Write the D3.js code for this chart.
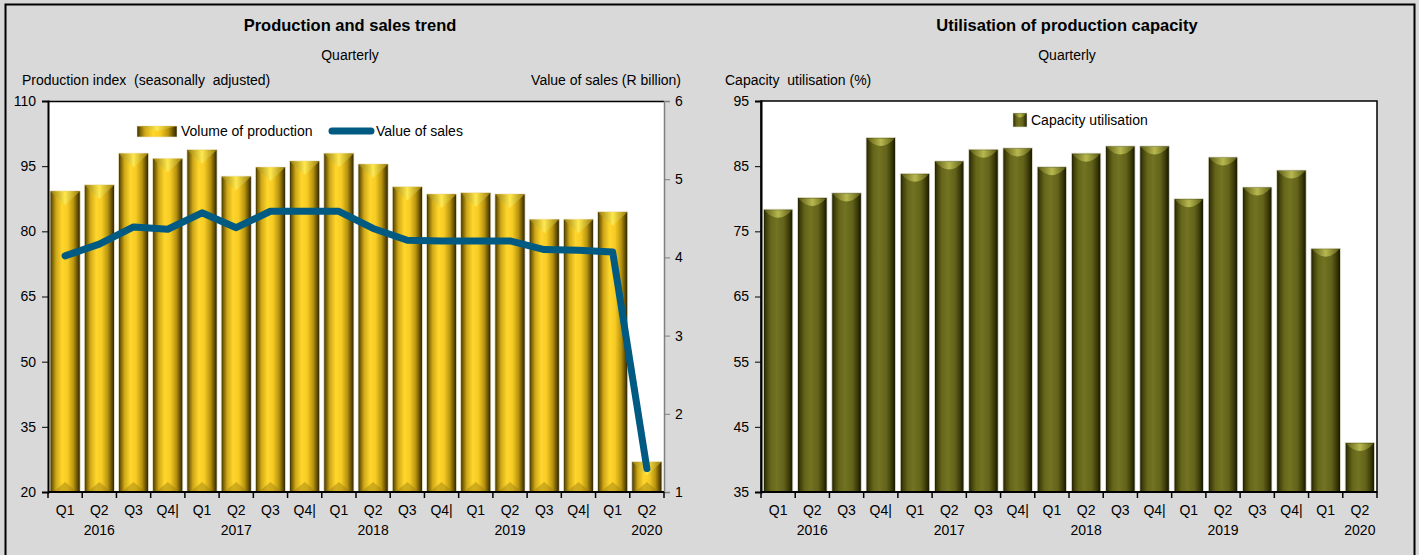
<!DOCTYPE html>
<html>
<head>
<meta charset="utf-8">
<script src="https://cdn.jsdelivr.net/npm/d3@7"></script>
<style>
  html, body { margin: 0; padding: 0; background: #d9d9d9; }
  svg { display: block; }
  text { font-family: "Liberation Sans", Arial, sans-serif; fill: #000; }
</style>
</head>
<body>
<svg id="chart" width="1419" height="555"></svg>
<script>
// ---------- data ----------
const quarters = ["Q1","Q2","Q3","Q4|","Q1","Q2","Q3","Q4|","Q1","Q2","Q3","Q4|","Q1","Q2","Q3","Q4|","Q1","Q2"];
const years = ["2016","2016","2016","2016","2017","2017","2017","2017","2018","2018","2018","2018","2019","2019","2019","2019","2020","2020"];
const yearLabels = ["2016","2017","2018","2019","2020"];
const productionVolume = [89.3, 90.7, 98.0, 96.8, 98.8, 92.7, 94.8, 96.2, 98.0, 95.5, 90.3, 88.6, 88.9, 88.6, 82.8, 82.8, 84.5, 27.0];
const salesValue = [4.02, 4.17, 4.39, 4.36, 4.57, 4.38, 4.59, 4.59, 4.59, 4.37, 4.22, 4.21, 4.21, 4.21, 4.10, 4.09, 4.07, 1.30];
const capacityUtil = [78.4, 80.2, 80.9, 89.4, 83.9, 85.8, 87.6, 87.8, 84.9, 87.0, 88.1, 88.1, 80.0, 86.4, 81.8, 84.4, 72.4, 42.6];
const leftTicks = [20, 35, 50, 65, 80, 95, 110];
const rightTicks = [1, 2, 3, 4, 5, 6];
const capTicks = [35, 45, 55, 65, 75, 85, 95];

const idx = quarters.map((q, i) => i);
const svg = d3.select("#chart");

// ---------- gradients ----------
const defs = svg.append("defs");
function hGrad(id, stops) {
  const g = defs.append("linearGradient").attr("id", id).attr("x1", "0%").attr("x2", "100%").attr("y1", "0%").attr("y2", "0%");
  stops.forEach(s => g.append("stop").attr("offset", s[0]).attr("stop-color", s[1]));
}
hGrad("gold", [["0%","#2e2500"],["6%","#6e5804"],["20%","#cfa818"],["40%","#ffd62c"],["58%","#f7cb24"],["78%","#b8940f"],["92%","#5e4a03"],["100%","#241c00"]]);
hGrad("goldTop", [["0%","#9a7c08"],["50%","#ffe84e"],["100%","#9a7c08"]]);
hGrad("olive", [["0%","#161600"],["8%","#3c3c0a"],["25%","#66661a"],["45%","#737323"],["70%","#62621a"],["88%","#383808"],["100%","#121200"]]);
hGrad("oliveTop", [["0%","#5c5c14"],["50%","#b8b850"],["100%","#5c5c14"]]);

// background + frame
svg.append("rect").attr("x", 0).attr("y", 0).attr("width", 1419).attr("height", 555).attr("fill", "#d9d9d9");
svg.append("path").attr("d", "M5.5,555 L5.5,4.5 L1414.5,4.5 L1414.5,555").attr("fill", "none").attr("stroke", "#000").attr("stroke-width", 2);

const yTop = 101, yBot = 492;

// ---------- LEFT CHART ----------
const L = { x0: 48, x1: 664 };
const xL = d3.scaleBand().domain(idx).range([L.x0, L.x1]).paddingInner(0.12).paddingOuter(0.06);
const yL = d3.scaleLinear().domain([20, 110]).range([yBot, yTop]);
const yR = d3.scaleLinear().domain([1, 6]).range([yBot, yTop]);

svg.append("rect").attr("x", L.x0).attr("y", yTop).attr("width", L.x1 - L.x0).attr("height", yBot - yTop).attr("fill", "#fff");

svg.append("text").attr("x", 350).attr("y", 31).attr("text-anchor", "middle").attr("font-size", 16.5).attr("font-weight", "bold").text("Production and sales trend");
svg.append("text").attr("x", 350).attr("y", 60).attr("text-anchor", "middle").attr("font-size", 14).text("Quarterly");
svg.append("text").attr("x", 22).attr("y", 85).attr("font-size", 14).attr("xml:space", "preserve").text("Production index  (seasonally  adjusted)");
svg.append("text").attr("x", 681).attr("y", 85).attr("text-anchor", "end").attr("font-size", 14).text("Value of sales (R billion)");

// bars left
const gBL = svg.append("g");
const bw = xL.bandwidth();
idx.forEach(i => {
  const x = xL(i), y = yL(productionVolume[i]), h = yBot - y;
  gBL.append("rect").attr("x", x).attr("y", y).attr("width", bw).attr("height", h)
    .attr("fill", "url(#gold)").attr("stroke", "#eee8c8").attr("stroke-width", 0.8);
  const bv = Math.min(14, h / 2);
  gBL.append("path").attr("d", `M${x + 0.5},${y + 0.5} L${x + bw - 0.5},${y + 0.5} L${x + bw / 2},${y + bv} Z`).attr("fill", "url(#goldTop)");
  gBL.append("path").attr("d", `M${x + 3},${yBot} L${x + bw - 3},${yBot} L${x + bw / 2},${yBot - 10} Z`).attr("fill", "#9c7e10").attr("opacity", 0.45);
});

// line
const lineGen = d3.line().x((d, i) => xL(i) + bw / 2).y(d => yR(d)).curve(d3.curveLinear);
svg.append("path").datum(salesValue).attr("d", lineGen).attr("fill", "none").attr("stroke", "#005a82")
  .attr("stroke-width", 7).attr("stroke-linejoin", "round").attr("stroke-linecap", "round");

// plot border
svg.append("line").attr("x1", L.x0).attr("x2", L.x1).attr("y1", yTop + 0.5).attr("y2", yTop + 0.5).attr("stroke", "#000").attr("stroke-width", 1.5);

// axes left
const axL = d3.axisLeft(yL).tickValues(leftTicks).tickSize(6).tickPadding(6);
const gAL = svg.append("g").attr("transform", `translate(${L.x0},0)`).call(axL);
const axR = d3.axisRight(yR).tickValues(rightTicks).tickSize(6).tickPadding(5).tickFormat(d3.format("d"));
const gAR = svg.append("g").attr("transform", `translate(${L.x1},0)`).call(axR);
gAR.select(".domain").attr("stroke", "#808080").attr("stroke-width", 1.5);
gAR.selectAll(".tick line").attr("stroke", "#808080");
gAL.select(".domain").attr("stroke-width", 2);

function xAxis(x, x0, x1) {
  const g = svg.append("g");
  g.append("line").attr("x1", x0).attr("x2", x1).attr("y1", yBot).attr("y2", yBot).attr("stroke", "#000").attr("stroke-width", 2);
  const bounds = d3.range(idx.length + 1).map(k => x0 + k * (x1 - x0) / idx.length);
  g.selectAll("line.t").data(bounds).enter().append("line").attr("class", "t")
    .attr("x1", d => d).attr("x2", d => d).attr("y1", yBot).attr("y2", yBot + 6).attr("stroke", "#000").attr("stroke-width", 1.5);
  g.selectAll("text.q").data(idx).enter().append("text").attr("class", "q")
    .attr("x", i => x(i) + x.bandwidth() / 2).attr("y", 515).attr("text-anchor", "middle").attr("font-size", 14)
    .text(i => quarters[i]);
  yearLabels.forEach(yr => {
    const pos = years.indexOf(yr) + 1;
    g.append("text").attr("x", x(pos) + x.bandwidth() / 2).attr("y", 535).attr("text-anchor", "middle").attr("font-size", 14).text(yr);
  });
}
xAxis(xL, L.x0, L.x1);

// legend left
svg.append("rect").attr("x", 137).attr("y", 126).attr("width", 40).attr("height", 11).attr("fill", "url(#gold)").attr("stroke", "#eee8c8").attr("stroke-width", 0.6);
svg.append("path").attr("d", "M137,126 L177,126 L157,131 Z").attr("fill", "url(#goldTop)");
svg.append("text").attr("x", 181).attr("y", 136).attr("font-size", 14).text("Volume of production");
svg.append("line").attr("x1", 332).attr("x2", 371).attr("y1", 131).attr("y2", 131).attr("stroke", "#005a82").attr("stroke-width", 7).attr("stroke-linecap", "round");
svg.append("text").attr("x", 376).attr("y", 136).attr("font-size", 14).text("Value of sales");

// ---------- RIGHT CHART ----------
const R = { x0: 761, x1: 1377 };
const xC = d3.scaleBand().domain(idx).range([R.x0, R.x1]).paddingInner(0.14).paddingOuter(0.07);
const yC = d3.scaleLinear().domain([35, 95]).range([yBot, yTop]);

svg.append("rect").attr("x", R.x0).attr("y", yTop).attr("width", R.x1 - R.x0).attr("height", yBot - yTop).attr("fill", "#fff")
  .attr("stroke", "#000").attr("stroke-width", 1.5);

svg.append("text").attr("x", 1067).attr("y", 31).attr("text-anchor", "middle").attr("font-size", 16.5).attr("font-weight", "bold").text("Utilisation of production capacity");
svg.append("text").attr("x", 1067).attr("y", 60).attr("text-anchor", "middle").attr("font-size", 14).text("Quarterly");
svg.append("text").attr("x", 725).attr("y", 85).attr("font-size", 14).attr("xml:space", "preserve").text("Capacity  utilisation (%)");

const gBR = svg.append("g");
const bw2 = xC.bandwidth();
idx.forEach(i => {
  const x = xC(i), y = yC(capacityUtil[i]), h = yBot - y;
  gBR.append("rect").attr("x", x).attr("y", y).attr("width", bw2).attr("height", h)
    .attr("fill", "url(#olive)").attr("stroke", "#e4e4d0").attr("stroke-width", 0.8);
  gBR.append("path").attr("d", `M${x + 1},${y + 1} L${x + bw2 - 1},${y + 1} Q${x + bw2 / 2},${y + 16} ${x + 1},${y + 1} Z`)
    .attr("fill", "url(#oliveTop)");
});

const axC = d3.axisLeft(yC).tickValues(capTicks).tickSize(6).tickPadding(6);
const gAC = svg.append("g").attr("transform", `translate(${R.x0},0)`).call(axC);
gAC.select(".domain").attr("stroke-width", 2);
xAxis(xC, R.x0, R.x1);

// legend right
svg.append("rect").attr("x", 1013).attr("y", 113).attr("width", 14).attr("height", 14).attr("fill", "url(#olive)").attr("stroke", "#e4e4d0").attr("stroke-width", 0.6);
svg.append("path").attr("d", "M1014,114 L1026,114 Q1020,121 1014,114 Z").attr("fill", "url(#oliveTop)");
svg.append("text").attr("x", 1031).attr("y", 125).attr("font-size", 14).text("Capacity utilisation");

// axis text styling
svg.selectAll(".tick text").attr("font-size", 14).attr("font-family", "Liberation Sans, Arial, sans-serif").attr("fill", "#000");
</script>
</body>
</html>
